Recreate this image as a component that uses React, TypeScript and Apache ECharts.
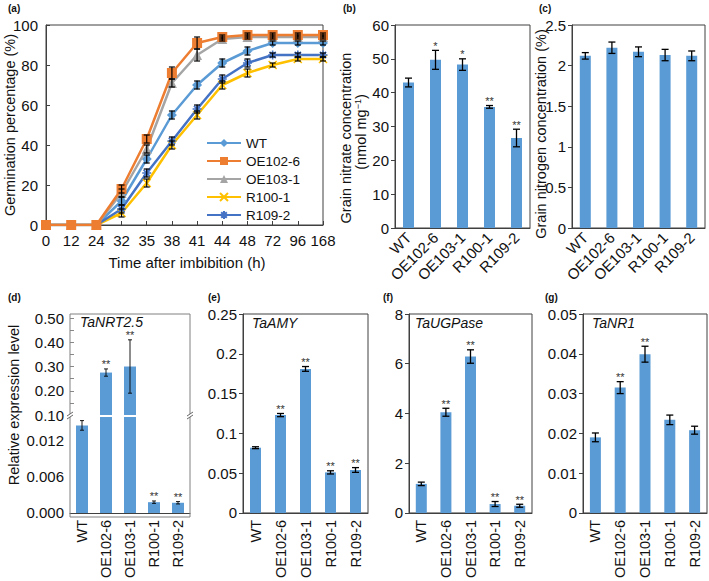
import React, { useEffect, useRef } from 'react';
import * as echarts from 'echarts';

// ---------- data ----------
const timeLabels = ['0', '12', '24', '32', '35', '38', '41', '44', '48', '72', '96', '168'];
const lineNames = ['WT', 'OE102-6', 'OE103-1', 'R100-1', 'R109-2'];
const germWT = [0, 0, 0, 12, 33, 55, 70, 81, 87, 91, 91, 91];
const germOE1026 = [0, 0, 0, 18, 43, 76, 91, 94, 95, 95, 95, 95];
const germOE1031 = [0, 0, 0, 16, 38, 71, 85, 93, 94, 94, 94, 94];
const germR1001 = [0, 0, 0, 6, 21, 40, 55, 70, 76, 80, 83, 83];
const germR1092 = [0, 0, 0, 8, 26, 42, 58, 73, 81, 85, 85, 85];
const germErrWT = [0, 0, 0, 2, 2, 2, 2, 2, 2, 1, 1, 1];
const germErrOE1026 = [0, 0, 0, 2, 2, 3, 3, 1, 1, 1, 1, 1];
const germErrOE1031 = [0, 0, 0, 2, 2, 2, 3, 1, 1, 1, 1, 1];
const germErrR1001 = [0, 0, 0, 2, 2, 2, 2, 2, 2, 1, 1, 1];
const germErrR1092 = [0, 0, 0, 2, 2, 2, 2, 2, 2, 1, 1, 1];

const genotypes = ['WT', 'OE102-6', 'OE103-1', 'R100-1', 'R109-2'];
const nitrate = [43.0, 49.7, 48.3, 35.8, 26.6];
const nitrateErr = [1.3, 2.8, 1.7, 0.4, 2.6];
const nitrateStars = ['', '*', '*', '**', '**'];
const nitrogen = [2.12, 2.22, 2.17, 2.13, 2.12];
const nitrogenErr = [0.04, 0.07, 0.06, 0.07, 0.06];
const nrt25 = [0.0146, 0.275, 0.3, 0.0018, 0.0017];
const nrt25Err = [0.0008, 0.015, 0.11, 0.0002, 0.0002];
const nrt25Stars = ['', '**', '**', '**', '**'];
const amy = [0.082, 0.123, 0.181, 0.051, 0.054];
const amyErr = [0.0012, 0.002, 0.003, 0.002, 0.003];
const amyStars = ['', '**', '**', '**', '**'];
const ugp = [1.17, 4.05, 6.29, 0.36, 0.29];
const ugpErr = [0.07, 0.16, 0.27, 0.1, 0.06];
const ugpStars = ['', '**', '**', '**', '**'];
const nr1 = [0.019, 0.0315, 0.0399, 0.0234, 0.0208];
const nr1Err = [0.0011, 0.0015, 0.002, 0.0012, 0.001];
const nr1Stars = ['', '**', '**', '', ''];

// broken axis of panel (d)
const nrtLowerMax = 0.016;
const nrtUpperMin = 0.1;
const nrtUpperMax = 0.5;

// ---------- styles ----------
const FONT = '"Liberation Sans", Arial, Helvetica, sans-serif';
const TXT = '#111';
const AX = '#404040';
const BAR = '#5B9BD5';
const TICK_FS = 15;
const lineColors = ['#5B9BD5', '#ED7D31', '#A5A5A5', '#FFC000', '#4472C4'];
const lineSymbols = [
  'diamond',
  'rect',
  'triangle',
  'path://M0,0L10,10M10,0L0,10',
  'path://M0,5L10,5M5,0L5,10M1.5,1.5L8.5,8.5M8.5,1.5L1.5,8.5',
];
const lineSymbolSizes = [10, 10, 10, 8, 9];

function errorSeries(
  xAxisIndex: number,
  yAxisIndex: number,
  values: number[],
  errs: number[],
  stars: string[] | null,
  capHalf: number,
  lw: number,
  keep?: (v: number) => boolean,
) {
  const data: any[] = [];
  values.forEach((v, i) => {
    if (keep && !keep(v)) return;
    if (errs[i] <= 0 && !(stars && stars[i])) return;
    data.push({ value: [i, v - errs[i], v + errs[i]], star: stars ? stars[i] : '' });
  });
  return {
    type: 'custom',
    xAxisIndex,
    yAxisIndex,
    z: 10,
    clip: false,
    silent: true,
    data,
    encode: { x: 0, y: [1, 2] },
    renderItem: (params: any, api: any) => {
      const d = data[params.dataIndex];
      const x = api.value(0);
      const lo = api.coord([x, api.value(1)]);
      const hi = api.coord([x, api.value(2)]);
      const cx = hi[0];
      const children: any[] = [];
      if (Math.abs(lo[1] - hi[1]) > 0.5) {
        const st = { stroke: '#000', lineWidth: lw };
        children.push({ type: 'line', shape: { x1: cx, y1: hi[1], x2: cx, y2: lo[1] }, style: st });
        children.push({ type: 'line', shape: { x1: cx - capHalf, y1: hi[1], x2: cx + capHalf, y2: hi[1] }, style: st });
        children.push({ type: 'line', shape: { x1: cx - capHalf, y1: lo[1], x2: cx + capHalf, y2: lo[1] }, style: st });
      }
      if (d.star) {
        children.push({
          type: 'text',
          x: cx,
          y: hi[1] + 1,
          style: {
            text: d.star,
            fill: '#333',
            font: `11px ${FONT}`,
            align: 'center',
            verticalAlign: 'bottom',
          },
        });
      }
      return { type: 'group', children };
    },
  };
}

function rotText(x: number, y: number, text: string, size = 14.5, rich?: any) {
  return {
    type: 'text',
    x,
    y,
    rotation: Math.PI / 2,
    style: {
      text,
      fill: TXT,
      font: `${size}px ${FONT}`,
      fontSize: size,
      fontFamily: FONT,
      align: 'center',
      verticalAlign: 'middle',
      rich,
    },
  };
}

function plainText(x: number, y: number, text: string, font: string, align = 'left') {
  return {
    type: 'text',
    x,
    y,
    style: { text, fill: TXT, font, align, verticalAlign: 'middle' },
  };
}

function catAxis(gridIndex: number, rotate: number, show = true, fs = TICK_FS) {
  return {
    type: 'category',
    gridIndex,
    data: genotypes,
    show,
    axisLine: { lineStyle: { color: AX, width: 1 } },
    axisTick: { show: false },
    axisLabel: {
      interval: 0,
      rotate,
      margin: 7,
      color: TXT,
      fontSize: fs,
      fontFamily: FONT,
    },
  };
}

function valAxis(gridIndex: number, min: number, max: number, interval: number, extra: any = {}) {
  return {
    type: 'value',
    gridIndex,
    min,
    max,
    interval,
    splitLine: { show: false },
    axisLine: { show: true, lineStyle: { color: AX, width: 1 } },
    axisTick: { show: true, inside: false, length: 4, lineStyle: { color: AX } },
    axisLabel: { color: TXT, fontSize: TICK_FS, fontFamily: FONT, margin: 6 },
    ...extra,
  };
}

function barSeries(xAxisIndex: number, yAxisIndex: number, data: any[], barWidth = 11) {
  return {
    type: 'bar',
    xAxisIndex,
    yAxisIndex,
    data,
    barWidth,
    clip: true,
    silent: true,
    itemStyle: { color: BAR },
  };
}

export default function App() {
  const ref = useRef<HTMLDivElement>(null);

  useEffect(() => {
    if (!ref.current) return;
    const chart = echarts.init(ref.current, null, { renderer: 'svg', width: 709, height: 581 });

    const germ = [germWT, germOE1026, germOE1031, germR1001, germR1092];
    const germErr = [germErrWT, germErrOE1026, germErrOE1031, germErrR1001, germErrR1092];

    const gridBox = { show: true, borderColor: AX, borderWidth: 1, containLabel: false };

    const option: any = {
      animation: false,
      backgroundColor: '#fff',
      textStyle: { fontFamily: FONT },
      grid: [
        { left: 46, top: 25, width: 277, height: 200, ...gridBox }, // a
        { left: 395, top: 25, width: 135, height: 203, ...gridBox }, // b
        { left: 572, top: 25, width: 133, height: 203, ...gridBox }, // c
        { left: 70, top: 318, width: 120, height: 97, show: false }, // d upper
        { left: 70, top: 417, width: 120, height: 100, show: false }, // d lower
        { left: 243, top: 314, width: 125, height: 203, ...gridBox }, // e
        { left: 409, top: 314, width: 123, height: 203, ...gridBox }, // f
        { left: 583, top: 314, width: 124, height: 203, ...gridBox }, // g
      ],
      xAxis: [
        {
          type: 'category',
          gridIndex: 0,
          data: timeLabels,
          boundaryGap: false,
          axisLine: { lineStyle: { color: AX } },
          axisTick: { show: true, inside: true, length: 4, alignWithLabel: true, lineStyle: { color: AX } },
          axisLabel: { interval: 0, color: TXT, fontSize: TICK_FS, fontFamily: FONT, margin: 8 },
        },
        catAxis(1, 45),
        catAxis(2, 45),
        catAxis(3, 0, false),
        catAxis(4, 90, true, 14.5),
        catAxis(5, 90, true, 14.5),
        catAxis(6, 90, true, 14.5),
        catAxis(7, 90, true, 14.5),
      ],
      yAxis: [
        valAxis(0, 0, 100, 20, {
          axisTick: { show: true, inside: true, length: 4, lineStyle: { color: AX } },
          axisLabel: { color: TXT, fontSize: TICK_FS, fontFamily: FONT, margin: 8 },
        }),
        valAxis(1, 0, 60, 10),
        valAxis(2, 0, 2.5, 0.5),
        valAxis(3, nrtUpperMin, nrtUpperMax, 0.05, {
          axisLine: { show: false },
          axisTick: { show: true, inside: true, length: 4, lineStyle: { color: '#888' } },
          axisLabel: {
            color: TXT,
            fontSize: TICK_FS,
            fontFamily: FONT,
            margin: 6,
            formatter: (v: number) => (Math.abs(v * 10 - Math.round(v * 10)) < 1e-6 ? v.toFixed(2) : ''),
          },
        }),
        valAxis(4, 0, nrtLowerMax, 0.006, {
          axisLine: { show: false },
          axisTick: { show: false },
          axisLabel: {
            color: TXT,
            fontSize: TICK_FS,
            fontFamily: FONT,
            margin: 6,
            formatter: (v: number) => (v > nrtLowerMax - 1e-6 ? '' : v.toFixed(3)),
          },
        }),
        valAxis(5, 0, 0.25, 0.05),
        valAxis(6, 0, 8, 2),
        valAxis(7, 0, 0.05, 0.01),
      ],
      legend: {
        orient: 'vertical',
        left: 201,
        top: 131,
        itemWidth: 34,
        itemHeight: 10,
        itemGap: 4,
        selectedMode: false,
        data: lineNames,
        textStyle: { color: TXT, fontSize: 13.5, fontFamily: FONT },
      },
      series: [
        ...lineNames.map((name, k) => ({
          type: 'line',
          name,
          xAxisIndex: 0,
          yAxisIndex: 0,
          data: germ[k],
          symbol: lineSymbols[k],
          symbolSize: lineSymbolSizes[k],
          z: 3 + (k === 1 ? 2 : k === 2 ? 1 : 0),
          lineStyle: { color: lineColors[k], width: 2.5 },
          itemStyle: { color: lineColors[k], borderColor: lineColors[k], borderWidth: k >= 3 ? 1.6 : 0 },
          silent: true,
        })),
        ...lineNames.map((_, k) => errorSeries(0, 0, germ[k], germErr[k], null, 3, 1.2)),

        barSeries(1, 1, nitrate),
        errorSeries(1, 1, nitrate, nitrateErr, nitrateStars, 3.5, 1.3),

        barSeries(2, 2, nitrogen),
        errorSeries(2, 2, nitrogen, nitrogenErr, null, 3.5, 1.3),

        barSeries(3, 3, nrt25.map((v) => (v > nrtUpperMin ? v : '-')), 12),
        barSeries(4, 4, nrt25.map((v) => Math.min(v, nrtLowerMax)), 12),
        errorSeries(3, 3, nrt25, nrt25Err, nrt25Stars, 2, 0.9, (v) => v > nrtLowerMax),
        errorSeries(4, 4, nrt25, nrt25Err, nrt25Stars, 2, 0.9, (v) => v <= nrtLowerMax),

        barSeries(5, 5, amy),
        errorSeries(5, 5, amy, amyErr, amyStars, 3.5, 1.3),

        barSeries(6, 6, ugp),
        errorSeries(6, 6, ugp, ugpErr, ugpStars, 3.5, 1.3),

        barSeries(7, 7, nr1),
        errorSeries(7, 7, nr1, nr1Err, nr1Stars, 3.5, 1.3),
      ],
      graphic: [
        // panel letters
        plainText(8, 8, '(a)', `bold 10px ${FONT}`),
        plainText(343, 8, '(b)', `bold 10px ${FONT}`),
        plainText(539, 8, '(c)', `bold 10px ${FONT}`),
        plainText(8, 297, '(d)', `bold 10px ${FONT}`),
        plainText(208, 297, '(e)', `bold 10px ${FONT}`),
        plainText(383, 297, '(f)', `bold 10px ${FONT}`),
        plainText(545, 297, '(g)', `bold 10px ${FONT}`),
        // axis titles
        plainText(187, 262, 'Time after imbibition (h)', `15px ${FONT}`, 'center'),
        rotText(10, 125, 'Germination percentage (%)'),
        rotText(346, 138, 'Grain nitrate concentration'),
        rotText(361, 132, '(nmol mg{sup|−1})', 14.5, {
          sup: { fontSize: 9, fontFamily: FONT, fill: TXT, verticalAlign: 'top', padding: [0, 0, 6, 0] },
        }),
        rotText(541, 134, 'Grain nitrogen concentration (%)'),
        rotText(14, 405, 'Relative expression level'),
        // gene names
        plainText(80, 322, 'TaNRT2.5', `italic 14px ${FONT}`),
        plainText(252, 323, 'TaAMY', `italic 14px ${FONT}`),
        plainText(415, 323, 'TaUGPase', `italic 14px ${FONT}`),
        plainText(592, 323, 'TaNR1', `italic 14px ${FONT}`),
        // frame of panel (d) with axis breaks
        {
          type: 'rect',
          shape: { x: 70, y: 314, width: 120, height: 203 },
          style: { fill: 'none', stroke: '#808080', lineWidth: 1 },
          z: 20,
        },
        { type: 'rect', shape: { x: 66, y: 414, width: 8, height: 3 }, style: { fill: '#fff' }, z: 21 },
        { type: 'rect', shape: { x: 186, y: 414, width: 8, height: 3 }, style: { fill: '#fff' }, z: 21 },
        { type: 'line', shape: { x1: 67, y1: 416, x2: 73, y2: 412 }, style: { stroke: '#666', lineWidth: 1 }, z: 22 },
        { type: 'line', shape: { x1: 67, y1: 419, x2: 73, y2: 415 }, style: { stroke: '#666', lineWidth: 1 }, z: 22 },
        { type: 'line', shape: { x1: 187, y1: 416, x2: 193, y2: 412 }, style: { stroke: '#666', lineWidth: 1 }, z: 22 },
        { type: 'line', shape: { x1: 187, y1: 419, x2: 193, y2: 415 }, style: { stroke: '#666', lineWidth: 1 }, z: 22 },
      ],
    };

    chart.setOption(option);
    return () => chart.dispose();
  }, []);

  return (
    <div
      ref={ref}
      style={{ position: 'fixed', left: 0, top: 0, width: 709, height: 581, background: '#fff' }}
    />
  );
}
